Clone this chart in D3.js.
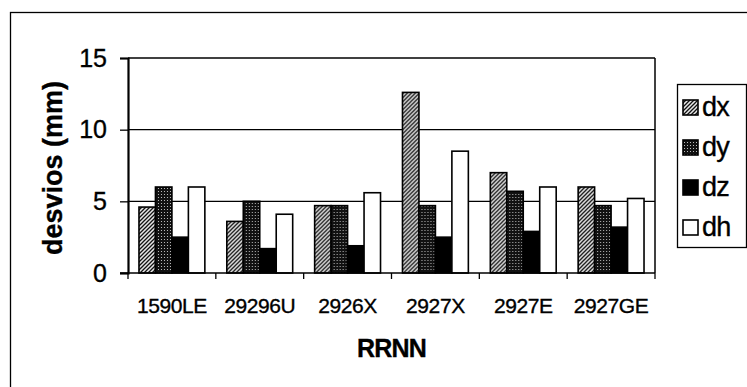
<!DOCTYPE html>
<html>
<head>
<meta charset="utf-8">
<script src="https://cdn.jsdelivr.net/npm/d3@7"></script>
<style>
  html, body { margin: 0; padding: 0; background: #fff; }
  svg { display: block; }
  text { font-family: "Liberation Sans", Arial, sans-serif; fill: #000; stroke: #000; stroke-width: 0.35px; }
</style>
</head>
<body>
<svg id="chart" width="747" height="387"></svg>
<script>
// Deviations per benchmark (mm)
const categories = ["1590LE", "29296U", "2926X", "2927X", "2927E", "2927GE"];
const seriesNames = ["dx", "dy", "dz", "dh"];
const dx = [4.6, 3.6, 4.7, 12.6, 7.0, 6.0];
const dy = [6.0, 5.0, 4.7, 4.7, 5.7, 4.7];
const dz = [2.5, 1.7, 1.9, 2.5, 2.9, 3.2];
const dh = [6.0, 4.1, 5.6, 8.5, 6.0, 5.2];
const yTicks = [0, 5, 10, 15];
const xTitle = "RRNN";
const yTitle = "desvios (mm)";

const values = { dx, dy, dz, dh };
const rows = categories.map((c, i) => ({
  cat: c,
  vals: seriesNames.map(s => ({ key: s, value: values[s][i] }))
}));

const svg = d3.select("#chart");
const margin = { left: 128, top: 58, right: 92, bottom: 114 };
const W = 747, H = 387;
const w = W - margin.left - margin.right;
const h = H - margin.top - margin.bottom;

// Fill patterns
const defs = svg.append("defs");
const hatch = defs.append("pattern").attr("id", "p-dx")
  .attr("patternUnits", "userSpaceOnUse").attr("width", 4).attr("height", 4);
hatch.append("rect").attr("width", 4).attr("height", 4).attr("fill", "#e8e8e8");
hatch.append("path").attr("d", "M-1,1 l2,-2 M0,4 l4,-4 M3,5 l2,-2")
  .attr("stroke", "#111").attr("stroke-width", 1.3);

const dots = defs.append("pattern").attr("id", "p-dy")
  .attr("patternUnits", "userSpaceOnUse").attr("width", 3).attr("height", 3);
dots.append("rect").attr("width", 3).attr("height", 3).attr("fill", "#111");
dots.append("rect").attr("x", 1).attr("y", 1).attr("width", 1).attr("height", 1).attr("fill", "#bbb");

const fills = { dx: "url(#p-dx)", dy: "url(#p-dy)", dz: "#000", dh: "#fff" };

// Outer chart frame
svg.append("rect").attr("x", 10.5).attr("y", 12.5).attr("width", 760).attr("height", 400)
  .attr("fill", "none").attr("stroke", "#000").attr("stroke-width", 1.3);

const g = svg.append("g").attr("transform", `translate(${margin.left},${margin.top})`);

const x0 = d3.scaleBand().domain(categories).range([0, w])
  .paddingInner(0.25).paddingOuter(0.125);
const x1 = d3.scaleBand().domain(seriesNames).range([0, x0.bandwidth()]);
const y = d3.scaleLinear().domain([0, 15]).range([h, 0]);

// Gridlines
g.append("g").selectAll("line").data(yTicks.filter(t => t > 0)).join("line")
  .attr("x1", 0).attr("x2", w)
  .attr("y1", d => y(d)).attr("y2", d => y(d))
  .attr("stroke", "#000").attr("stroke-width", 1.3);

// Right border of plot area
g.append("line").attr("x1", w).attr("x2", w).attr("y1", 0).attr("y2", h)
  .attr("stroke", "#000").attr("stroke-width", 1.5);

// Bars
const groups = g.append("g").selectAll("g").data(rows).join("g")
  .attr("transform", d => `translate(${x0(d.cat)},0)`);
groups.selectAll("rect").data(d => d.vals).join("rect")
  .attr("x", d => x1(d.key))
  .attr("y", d => y(d.value))
  .attr("width", x1.bandwidth())
  .attr("height", d => h - y(d.value))
  .attr("fill", d => fills[d.key])
  .attr("stroke", "#000").attr("stroke-width", 1.6);

// Y axis
const yAxis = g.append("g").call(d3.axisLeft(y).tickValues(yTicks).tickSize(8).tickPadding(13));
yAxis.select(".domain").attr("stroke-width", 2.2);
yAxis.selectAll(".tick line").attr("stroke-width", 1.3);
yAxis.selectAll("text").attr("font-size", 25).style("font-family", '"Liberation Sans", Arial, sans-serif');

// X axis with ticks at category boundaries
const xAxis = g.append("g").attr("transform", `translate(0,${h})`);
xAxis.append("line").attr("x1", -8).attr("x2", w).attr("stroke", "#000").attr("stroke-width", 1.6);
xAxis.selectAll("line.tk").data(d3.range(categories.length + 1)).join("line").attr("class", "tk")
  .attr("x1", i => i * x0.step()).attr("x2", i => i * x0.step())
  .attr("y1", 0).attr("y2", 6).attr("stroke", "#000").attr("stroke-width", 1.3);
xAxis.selectAll("text").data(categories).join("text")
  .attr("x", d => x0(d) + x0.bandwidth() / 2)
  .attr("y", 40)
  .attr("text-anchor", "middle")
  .attr("font-size", 21)
  .attr("letter-spacing", -0.4)
  .text(d => d);

// Axis titles
svg.append("text").attr("x", margin.left + w / 2).attr("y", 357)
  .attr("text-anchor", "middle").attr("font-size", 25).attr("font-weight", "bold")
  .attr("letter-spacing", -0.8)
  .text(xTitle);
svg.append("text").attr("transform", "translate(62,168) rotate(-90)")
  .attr("text-anchor", "middle").attr("font-size", 27).attr("font-weight", "bold")
  .text(yTitle);

// Legend
const legend = svg.append("g").attr("transform", "translate(677,84)");
legend.append("rect").attr("x", 0.5).attr("y", 0.5).attr("width", 69).attr("height", 163)
  .attr("fill", "#fff").attr("stroke", "#000").attr("stroke-width", 1.3);
const items = legend.selectAll("g.item").data(seriesNames).join("g").attr("class", "item")
  .attr("transform", (d, i) => `translate(6,${23 + i * 40})`);
items.append("rect").attr("x", 0).attr("y", -7).attr("width", 15).attr("height", 15)
  .attr("fill", d => fills[d]).attr("stroke", "#000").attr("stroke-width", 1.6);
items.append("text").attr("x", 19).attr("y", 9).attr("font-size", 27)
  .attr("letter-spacing", -0.8)
  .text(d => d);
</script>
</body>
</html>
